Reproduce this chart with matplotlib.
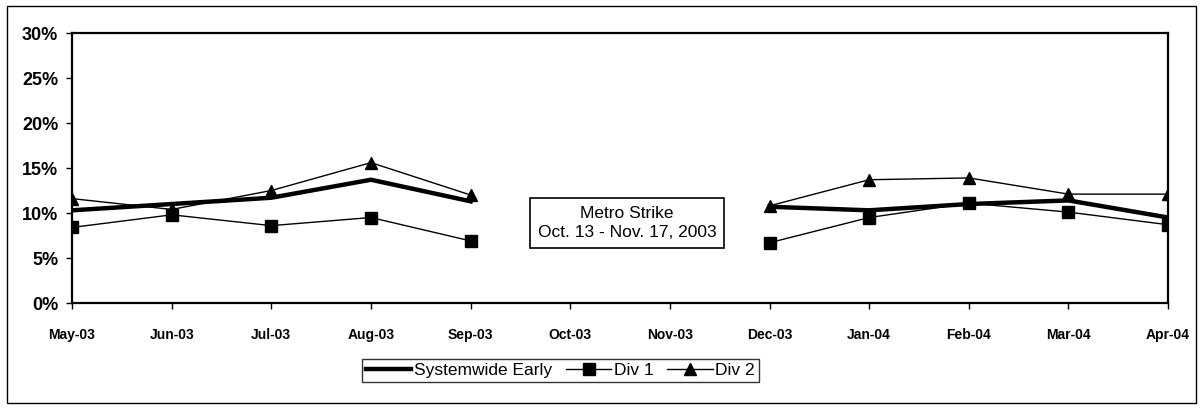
import matplotlib.pyplot as plt
import numpy as np
from matplotlib.patches import Rectangle
from matplotlib.ticker import FuncFormatter

plt.rcParams['font.family'] = ['Liberation Sans', 'DejaVu Sans']

months = ["May-03", "Jun-03", "Jul-03", "Aug-03", "Sep-03", "Oct-03",
          "Nov-03", "Dec-03", "Jan-04", "Feb-04", "Mar-04", "Apr-04"]
nan = np.nan
systemwide = [10.3, 11.0, 11.7, 13.7, 11.3, nan, nan, 10.7, 10.3, 11.0, 11.4, 9.5]
div1 = [8.4, 9.8, 8.6, 9.5, 6.9, nan, nan, 6.7, 9.5, 11.1, 10.1, 8.7]
div2 = [11.6, 10.4, 12.5, 15.6, 12.0, nan, nan, 10.8, 13.7, 13.9, 12.1, 12.1]

x = np.arange(len(months))

fig = plt.figure(figsize=(12.03, 4.13), dpi=100)
ax = fig.add_axes([0.0599, 0.2663, 0.9111, 0.6537])

ax.plot(x, systemwide, color="black", lw=3.2, label="Systemwide Early")
ax.plot(x, div1, color="black", lw=1, marker="s", ms=8, label="Div 1")
ax.plot(x, div2, color="black", lw=1, marker="^", ms=9, label="Div 2")

ax.set_xlim(0, len(months) - 1)
ax.set_ylim(0, 30)
ax.set_yticks(np.arange(0, 31, 5))
ax.yaxis.set_major_formatter(FuncFormatter(lambda v, p: f"{v:.0f}%"))
ax.set_xticks(x)
ax.set_xticklabels(months)
for lbl in ax.get_xticklabels():
    lbl.set_fontweight("bold")
    lbl.set_fontsize(10)
for lbl in ax.get_yticklabels():
    lbl.set_fontweight("bold")
    lbl.set_fontsize(13)
ax.tick_params(axis="both", direction="out", length=4, width=1, colors="black")
ax.tick_params(axis="x", pad=14)
ax.tick_params(axis="y", pad=6)
for s in ax.spines.values():
    s.set_linewidth(1.6)

ax.text(5.57, 8.9, "Metro Strike\nOct. 13 - Nov. 17, 2003", ha="center", va="center",
        fontsize=12.5, linespacing=1.35,
        bbox=dict(boxstyle="square,pad=0.45", fc="white", ec="black", lw=1.2))

leg = fig.legend(loc="center", bbox_to_anchor=(0.466, 0.103), ncol=3, fontsize=12.5,
                 frameon=True, fancybox=False, edgecolor="black", handlelength=2.6,
                 handletextpad=0.15, columnspacing=0.8, borderpad=0.25)
leg.get_frame().set_linewidth(1.0)

fig.patches.append(Rectangle((0.006, 0.025), 0.988, 0.96, transform=fig.transFigure,
                             fill=False, ec="black", lw=1.0))

fig.savefig("out.png", dpi=100)
